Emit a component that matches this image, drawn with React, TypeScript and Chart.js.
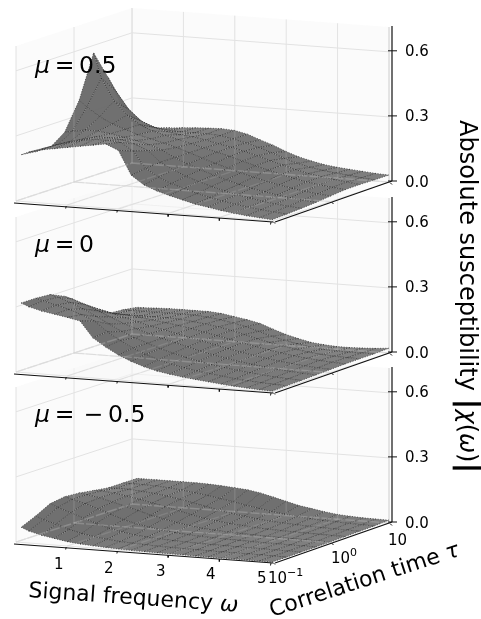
import React, { useEffect, useRef } from "react";
import { Chart, registerables } from "chart.js";

Chart.register(...registerables);

// ---- data ----
const omegaGrid = [0.1, 0.25, 0.5, 0.75, 1, 1.25, 1.5, 1.75, 2, 2.25, 2.5, 2.75, 3, 3.25, 3.5, 3.75, 4, 4.25, 4.5, 4.75, 5];
const logTauGrid = [-1, -0.75, -0.5, -0.25, 0, 0.25, 0.5, 0.75, 1];

const surfaceMuPlus = [
  [.215,.23,.245,.255,.265,.275,.285,.295,.27,.16,.12,.097,.08,.065,.05,.04,.03,.022,.015,.01,.006],
  [.207,.225,.245,.26,.275,.285,.285,.28,.245,.17,.133,.108,.09,.072,.058,.046,.036,.027,.02,.014,.009],
  [.205,.22,.24,.255,.27,.27,.265,.25,.225,.175,.145,.12,.10,.082,.066,.053,.042,.032,.024,.018,.013],
  [.253,.26,.27,.27,.262,.25,.24,.225,.205,.175,.15,.127,.108,.09,.074,.06,.049,.038,.03,.024,.018],
  [.378,.35,.31,.28,.26,.24,.225,.21,.195,.175,.155,.135,.118,.10,.085,.07,.058,.047,.038,.03,.025],
  [.575,.46,.36,.30,.26,.235,.22,.205,.19,.175,.16,.145,.128,.11,.095,.08,.066,.054,.045,.038,.032],
  [.44,.38,.30,.25,.225,.21,.20,.195,.185,.172,.16,.146,.13,.112,.096,.08,.066,.056,.048,.04,.033],
  [.276,.25,.21,.195,.19,.187,.187,.187,.183,.172,.158,.142,.122,.10,.082,.068,.058,.05,.044,.037,.032],
  [.19,.166,.17,.175,.18,.184,.187,.189,.185,.172,.15,.13,.105,.085,.07,.058,.05,.045,.04,.035,.032],
];
const surfaceMuZero = [
  [.32,.305,.29,.28,.27,.258,.185,.147,.115,.09,.07,.055,.045,.037,.03,.024,.018,.013,.009,.006,.004],
  [.32,.31,.295,.28,.26,.235,.19,.155,.125,.10,.08,.064,.052,.042,.034,.027,.02,.015,.011,.008,.006],
  [.315,.305,.285,.26,.23,.20,.17,.145,.125,.105,.088,.073,.06,.049,.04,.032,.025,.019,.014,.011,.008],
  [.285,.275,.255,.23,.205,.18,.16,.142,.125,.11,.095,.08,.067,.056,.046,.037,.03,.023,.018,.014,.011],
  [.225,.22,.21,.195,.18,.165,.15,.138,.125,.112,.10,.087,.074,.062,.052,.042,.034,.027,.021,.017,.014],
  [.17,.17,.168,.165,.16,.152,.145,.136,.126,.114,.103,.09,.078,.066,.055,.045,.036,.029,.024,.02,.017],
  [.14,.14,.14,.14,.14,.14,.138,.132,.125,.116,.104,.09,.075,.062,.05,.04,.031,.025,.021,.019,.018],
  [.135,.135,.135,.135,.135,.135,.135,.13,.122,.112,.10,.082,.064,.05,.038,.028,.022,.018,.017,.018,.019],
  [.125,.125,.128,.13,.13,.13,.13,.125,.115,.105,.092,.07,.05,.035,.022,.016,.012,.012,.014,.017,.022],
];
const surfaceMuMinus = [
  [.07,.055,.04,.03,.02,.014,.01,.007,.005,.003,.002,.001,.001,.001,0,0,0,0,0,0,0],
  [.10,.085,.07,.05,.035,.025,.018,.012,.009,.006,.004,.003,.002,.002,.001,.001,.001,.001,.001,0,0],
  [.135,.12,.10,.08,.06,.042,.03,.02,.015,.011,.008,.006,.004,.003,.003,.002,.002,.002,.001,.001,.001],
  [.145,.135,.12,.10,.08,.06,.045,.034,.025,.018,.013,.01,.008,.006,.005,.004,.003,.003,.002,.002,.002],
  [.14,.135,.125,.11,.095,.08,.062,.05,.038,.028,.02,.016,.012,.01,.008,.006,.005,.004,.004,.003,.003],
  [.13,.13,.125,.115,.105,.092,.08,.066,.052,.04,.032,.024,.02,.015,.012,.01,.008,.007,.006,.005,.005],
  [.12,.12,.12,.115,.11,.102,.092,.08,.068,.055,.045,.036,.028,.022,.018,.015,.012,.01,.009,.008,.007],
  [.12,.12,.12,.118,.114,.108,.10,.092,.082,.072,.06,.05,.04,.032,.026,.02,.016,.014,.012,.01,.009],
  [.12,.12,.12,.12,.12,.12,.118,.115,.11,.105,.095,.08,.065,.05,.04,.03,.022,.018,.015,.014,.013],
];

const omegaTicks = [1, 2, 3, 4, 5];
const logTauTicks = [-1, 0, 1];
const zTicks = [0, 0.3, 0.6];
const zTickLabels = ["0.0", "0.3", "0.6"];
const muLabels = ["0.5", "0", "\u2009\u2212\u20090.5"];
const omegaTickLabels = ["1", "2", "3", "4", "5"];

// ---- view geometry ----
const W = 481, H = 619;
const A = [16, 201], B = [272, 221], C = [389, 182], D = [132, 163];
const Z_PX = 217, Z_TOP = 0.714;
const PANEL_DY = [0, 171, 341];

const proj = (dy: number, omega: number, lt: number, z: number) => {
  const u = omega / 5, v = (lt + 1) / 2;
  const f = (i: number) => (1 - u) * (1 - v) * A[i] + u * (1 - v) * B[i] + u * v * C[i] + (1 - u) * v * D[i];
  return { x: f(0), y: f(1) + dy - z * Z_PX };
};

const lineDs = (data: any[], color: string, width: number, extra: any = {}) => ({
  data, showLine: true, pointRadius: 0, borderColor: color, borderWidth: width, tension: 0, fill: false, ...extra,
});
const polyDs = (data: any[], bg: string, border: string, width: number, extra: any = {}) => ({
  data: [...data, data[0]], showLine: true, pointRadius: 0, backgroundColor: bg, borderColor: border, borderWidth: width, tension: 0, fill: "shape", ...extra,
});

const GRID = "#e2e2e2";

function panelDatasets(idx: number, surface: number[][]) {
  const dy = PANEL_DY[idx];
  const out: any[] = [];
  const P = (o: number, t: number, z: number) => proj(dy, o, t, z);
  const pane = "rgba(248,248,248,0.6)";
  const clear = "rgba(0,0,0,0)";
  out.push(polyDs([P(0, -1, 0), P(0, 1, 0), P(0, 1, Z_TOP), P(0, -1, Z_TOP)], pane, clear, 0));
  out.push(polyDs([P(0, 1, 0), P(5, 1, 0), P(5, 1, Z_TOP), P(0, 1, Z_TOP)], pane, clear, 0));
  out.push(polyDs([P(0, -1, 0), P(5, -1, 0), P(5, 1, 0), P(0, 1, 0)], pane, clear, 0));
  for (const o of [0, ...omegaTicks]) {
    out.push(lineDs([P(o, -1, 0), P(o, 1, 0), P(o, 1, Z_TOP)], GRID, 1));
  }
  out.push(lineDs([P(5, 1, 0), P(5, 1, Z_TOP)], "rgba(225,225,225,0.8)", 2));
  for (const t of logTauTicks) {
    out.push(lineDs([P(5, t, 0), P(0, t, 0), P(0, t, Z_TOP)], GRID, 1));
  }
  for (const z of zTicks) {
    out.push(lineDs([P(0, -1, z), P(0, 1, z), P(5, 1, z)], GRID, 1));
  }
  // surface, far to near
  for (let r = logTauGrid.length - 2; r >= 0; r--) {
    for (let c = 0; c < omegaGrid.length - 1; c++) {
      const o0 = omegaGrid[c], o1 = omegaGrid[c + 1], t0 = logTauGrid[r], t1 = logTauGrid[r + 1];
      const z00 = surface[r][c], z10 = surface[r][c + 1], z01 = surface[r + 1][c], z11 = surface[r + 1][c + 1];
      const dzdo = ((z10 - z00 + z11 - z01) / 2 / 0.7) / ((o1 - o0) / 5);
      const dzdt = ((z01 - z00 + z11 - z10) / 2 / 0.7) / ((t1 - t0) / 2);
      const len = Math.hypot(dzdo, dzdt, 1);
      const nx = -dzdo / len, ny = -dzdt / len, nz = 1 / len;
      const lit = nx * -0.25 + ny * 0.75 + nz * 0.6 - 0.6;
      const g = Math.round(Math.max(106, Math.min(160, 123 + lit * 60)));
      out.push(polyDs(
        [P(o0, t0, z00), P(o1, t0, z10), P(o1, t1, z11), P(o0, t1, z01)],
        `rgba(${g},${g},${g},0.96)`, "rgba(35,35,35,0.85)", 0.8, { borderDash: [1, 1.6] },
      ));
    }
  }
  // grid seen through the surface
  const ghost = "rgba(205,205,205,0.3)";
  const ghostDash = { borderDash: [10, 2] };
  out.push(lineDs([P(0, -1, 0), P(0, 1, 0), P(5, 1, 0)], ghost, 1.6, ghostDash));
  out.push(lineDs([P(0, 0, 0), P(5, 0, 0)], ghost, 1.4, ghostDash));
  for (const o of omegaTicks.slice(0, 4)) {
    out.push(lineDs([P(o, -1, 0), P(o, 1, 0)], "rgba(205,205,205,0.18)", 1.4, ghostDash));
    const back = surface[8][omegaGrid.indexOf(o)];
    out.push(lineDs([P(o, 1, 0), P(o, 1, back)], "rgba(205,205,205,0.18)", 1.4));
  }
  out.push(lineDs([P(0, 0, 0), P(0, 0, surface[4][0])], "rgba(205,205,205,0.18)", 1.4));
  out.push(lineDs([P(0, 1, 0), P(0, 1, surface[8][0])], ghost, 1.4));
  // axes
  const bl = "#111";
  out.push(lineDs([{ x: 14, y: 203 + dy }, { x: 273, y: 222 + dy }], bl, 1.2));
  out.push(lineDs([{ x: 275, y: 222 + dy }, { x: 392, y: 181 + dy }], bl, 1.2));
  out.push(lineDs([{ x: 392, y: 181 + dy }, { x: 392, y: 181 + dy - Z_TOP * Z_PX }], bl, 1.2));
  for (const z of zTicks) {
    const y = 181 + dy - z * Z_PX;
    out.push(lineDs([{ x: 388, y }, { x: 397, y }], bl, 1));
  }
  for (const o of omegaTicks) {
    const p = P(o, -1, 0);
    out.push(lineDs([{ x: p.x - 1, y: p.y + 1 }, { x: p.x - 1.5, y: p.y + 3.5 }], bl, 1));
  }
  for (const t of logTauTicks) {
    const p = P(5, t, 0);
    out.push(lineDs([{ x: p.x + 1, y: p.y + 0.5 }, { x: p.x + 3, y: p.y + 2.5 }], bl, 1));
  }
  return out;
}

type Run = { t: string; it?: boolean; size?: number; up?: number; bold?: boolean };
const FONT = '"DejaVu Sans"';

function drawRuns(ctx: CanvasRenderingContext2D, x: number, y: number, angle: number, size: number, runs: Run[]) {
  ctx.save();
  ctx.translate(x, y);
  ctx.rotate((angle * Math.PI) / 180);
  ctx.textBaseline = "alphabetic";
  ctx.textAlign = "left";
  ctx.fillStyle = "#000";
  let cx = 0;
  for (const r of runs) {
    const s = r.size ?? size;
    ctx.font = `${r.it ? "italic " : ""}${r.bold ? "bold " : ""}${s}px ${FONT}`;
    ctx.fillText(r.t, cx, -(r.up ?? 0));
    cx += ctx.measureText(r.t).width;
  }
  ctx.restore();
}

const textPlugin = {
  id: "texts",
  afterDraw(chart: any) {
    const ctx: CanvasRenderingContext2D = chart.ctx;
    const muY = [73, 252, 422];
    muLabels.forEach((m, i) => {
      drawRuns(ctx, 35, muY[i], 0, 23.5, [{ t: "\u03bc", it: true }, { t: "\u2009=\u2009" + m }]);
    });
    PANEL_DY.forEach((dy) => {
      zTicks.forEach((z, i) => {
        drawRuns(ctx, 405, 181 + dy - z * Z_PX + 5.5, 0, 15, [{ t: zTickLabels[i] }]);
      });
    });
    const oxs = [54, 104, 156, 206, 257];
    const oys = [569, 573, 576, 579, 583];
    omegaTickLabels.forEach((l, i) => drawRuns(ctx, oxs[i], oys[i], 0, 15, [{ t: l }]));
    drawRuns(ctx, 268, 583, 0, 15, [{ t: "10" }, { t: "\u22121", size: 11, up: 7 }]);
    drawRuns(ctx, 331, 563, 0, 15, [{ t: "10" }, { t: "0", size: 11, up: 7 }]);
    drawRuns(ctx, 388, 545, 0, 15, [{ t: "10" }]);
    drawRuns(ctx, 28, 597, 4, 22, [{ t: "Signal frequency " }, { t: "\u03c9", it: true }]);
    drawRuns(ctx, 272, 617, -18, 22, [{ t: "Correlation time " }, { t: "\u03c4", it: true }]);
    drawRuns(ctx, 460, 120, 90, 24, [
      { t: "Absolute susceptibility " },
      { t: "|", bold: true, size: 30 },
      { t: "\u03c7", it: true },
      { t: "(" },
      { t: "\u03c9", it: true },
      { t: ")" },
      { t: "|", bold: true, size: 30 },
    ]);
  },
};

export default function App() {
  const ref = useRef<HTMLCanvasElement>(null);
  useEffect(() => {
    document.body.style.margin = "0";
    const draw: any[] = [
      ...panelDatasets(2, surfaceMuMinus),
      ...panelDatasets(1, surfaceMuZero),
      ...panelDatasets(0, surfaceMuPlus),
    ];
    const chart = new Chart(ref.current!, {
      type: "scatter",
      data: { datasets: draw.reverse() },
      options: {
        animation: false,
        responsive: false,
        devicePixelRatio: 1,
        layout: { padding: 0 },
        plugins: { legend: { display: false }, tooltip: { enabled: false } },
        events: [],
        scales: {
          x: { type: "linear", min: 0, max: W, display: false },
          y: { type: "linear", min: 0, max: H, reverse: true, display: false },
        },
      },
      plugins: [textPlugin],
    } as any);
    return () => chart.destroy();
  }, []);
  return <canvas ref={ref} width={W} height={H} style={{ display: "block", position: "absolute", left: 0, top: 0 }} />;
}
